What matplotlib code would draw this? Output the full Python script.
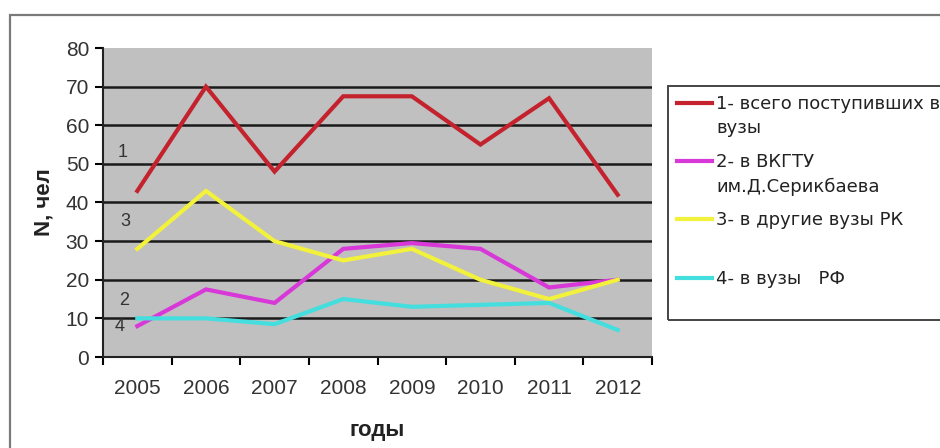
import matplotlib
matplotlib.use('Agg')
import matplotlib.pyplot as plt
from matplotlib.patches import Rectangle
from matplotlib.lines import Line2D

plt.rcParams['font.family'] = ['Liberation Sans', 'DejaVu Sans']

years = ['2005', '2006', '2007', '2008', '2009', '2010', '2011', '2012']
total = [43, 70, 48, 67.5, 67.5, 55, 67, 42]          # 1 - всего поступивших в вузы
vktu = [8, 17.5, 14, 28, 29.5, 28, 18, 20]             # 2 - в ВКГТУ им.Д.Серикбаева
other_rk = [28, 43, 30, 25, 28, 20, 15, 20]            # 3 - в другие вузы РК
russia = [10, 10, 8.5, 15, 13, 13.5, 14, 7]            # 4 - в вузы РФ

series = [
    (total, '#c4222c', '1- всего поступивших в\nвузы'),
    (vktu, '#d838d8', '2- в ВКГТУ\nим.Д.Серикбаева'),
    (other_rk, '#f2f23c', '3- в другие вузы РК'),
    (russia, '#44dede', '4- в вузы   РФ'),
]

W, H = 940, 448
fig = plt.figure(figsize=(W / 100, H / 100), dpi=100)
fig.patch.set_facecolor('white')

# outer chart frame (runs off the right and bottom edges)
fig.patches.append(Rectangle((10 / W, -0.2), 1.2, 1 - 15 / H + 0.2, transform=fig.transFigure,
                             fill=False, edgecolor='#7a7a7a', lw=1.6))

ax = fig.add_axes([103 / W, (H - 357) / H, 549 / W, 309 / H])
ax.set_facecolor('#c0c0c0')
x = list(range(len(years)))

for yv in range(10, 80, 10):
    ax.axhline(yv, color='#1a1a1a', lw=1.8, zorder=1)

for vals, color, label in series:
    ax.plot(x, vals, color=color, lw=3, zorder=3, solid_joinstyle='miter')

ax.set_xlim(-0.5, len(years) - 0.5)
ax.set_ylim(0, 80)
ax.set_yticks(range(0, 81, 10))
ax.set_xticks([i - 0.5 for i in range(len(years) + 1)])
ax.set_xticklabels([])
ax.set_xticks(x, minor=True)
ax.set_xticklabels(years, minor=True)
ax.tick_params(axis='x', which='minor', length=0, pad=16, labelsize=15, labelcolor='#333333')
ax.tick_params(axis='x', which='major', length=6, width=1.5, direction='out')
ax.tick_params(axis='y', length=6, width=1.5, direction='out', labelsize=15, labelcolor='#333333', pad=4)
for side in ('top', 'right'):
    ax.spines[side].set_visible(False)
for side in ('left', 'bottom'):
    ax.spines[side].set_linewidth(1.5)
    ax.spines[side].set_color('#222222')

# series numbers near the left edge
for num, xv, yv in [('1', -0.21, 53), ('3', -0.17, 35), ('2', -0.19, 14.5), ('4', -0.26, 8)]:
    ax.text(xv, yv, num, fontsize=13, color='#333333', ha='center', va='center', zorder=4)

ax.set_ylabel('N, чел', fontsize=16, fontweight='bold', color='#222222', labelpad=8)
ax.set_xlabel('годы', fontsize=16, fontweight='bold', color='#222222', labelpad=16)

# legend box, drawn by hand so it can run past the figure edge
fig.patches.append(Rectangle((668 / W, 1 - 320 / H), 0.5, (320 - 86) / H, transform=fig.transFigure,
                             fill=False, edgecolor='#444444', lw=1.4))
entry_y = [103, 161, 219, 278]
for (vals, color, label), py in zip(series, entry_y):
    fy = 1 - py / H
    fig.lines.append(Line2D([677 / W, 712 / W], [fy, fy], transform=fig.transFigure, color=color, lw=3))
    fig.text(716 / W, fy + 8 / H, label, fontsize=13, color='#222222', va='top', ha='left',
             family='DejaVu Sans', linespacing=1.45, transform=fig.transFigure)

fig.savefig('out.png', dpi=100)
